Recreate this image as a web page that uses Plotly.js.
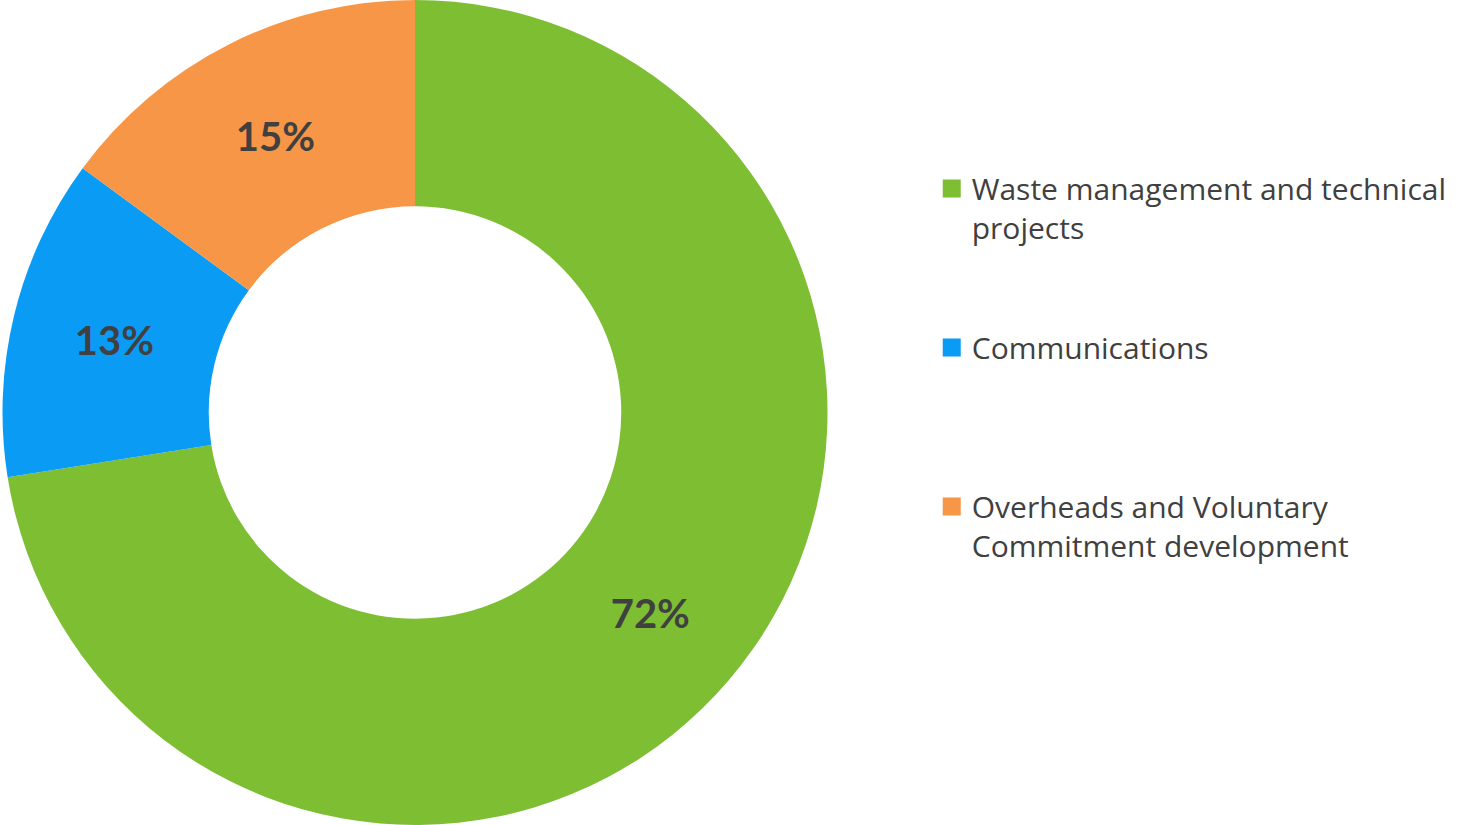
<!DOCTYPE html>
<html>
<head>
<meta charset="utf-8">
<script src="https://cdn.plot.ly/plotly-3.0.1.min.js"></script>
<style>html,body{margin:0;padding:0;background:#fff;}#chart{width:1468px;height:825px;}</style>
</head>
<body>
<div id="chart"></div>
<script>
const categories = [
  "Waste management and technical<br>projects<br> <br> ",
  "Communications<br> <br> <br> ",
  "Overheads and Voluntary<br>Commitment development<br> <br> "
];
const shares = [72.49, 12.6, 14.91];
const colors = ["#7DBE33", "#0A9BF5", "#F79646"];

const trace = {
  type: "pie",
  labels: categories,
  values: shares,
  hole: 0.5,
  sort: false,
  direction: "clockwise",
  rotation: 0,
  marker: {colors: colors, line: {width: 0}},
  textinfo: "percent",
  texttemplate: "%{percent:.0%}",
  textposition: "inside",
  insidetextorientation: "horizontal",
  textfont: {family: "Lato, 'Open Sans', sans-serif", size: 40, color: "#404040", weight: "bold"},
  domain: {x: [0, 0.5654], y: [0, 1]},
  hoverinfo: "label+percent"
};

const layout = {
  width: 1468,
  height: 825,
  margin: {l: 0, r: 0, t: 0, b: 0},
  paper_bgcolor: "#ffffff",
  showlegend: true,
  legend: {
    x: 0.6347,
    xanchor: "left",
    y: 0.803,
    yanchor: "top",
    valign: "top",
    font: {family: "'Open Sans', sans-serif", size: 30, color: "#404040"},
    bgcolor: "rgba(0,0,0,0)"
  }
};

Plotly.newPlot("chart", [trace], layout, {displayModeBar: false, staticPlot: true}).then(function () {
  document.querySelectorAll("#chart .legendpoints path").forEach(function (p) {
    p.setAttribute("transform", "translate(20,0) scale(1.5)");
  });
});
</script>
</body>
</html>
